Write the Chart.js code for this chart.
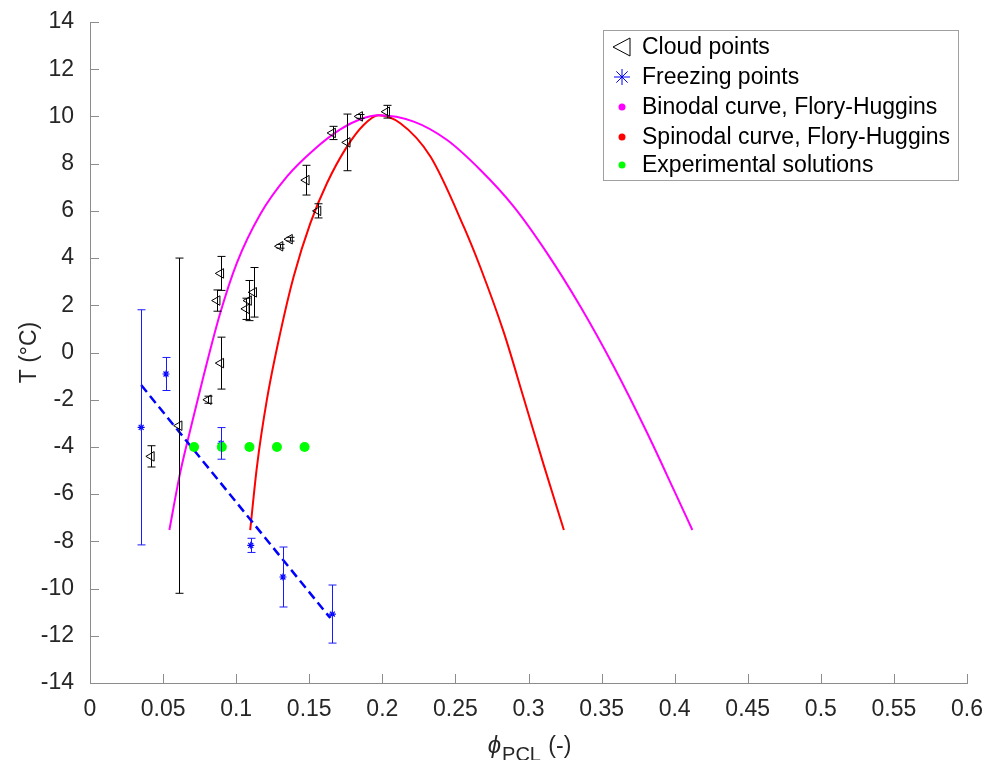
<!DOCTYPE html>
<html>
<head>
<meta charset="utf-8">
<script src="https://cdn.jsdelivr.net/npm/chart.js@4"></script>
<style>
  html, body { margin: 0; padding: 0; background: #fff; }
  #wrap { width: 985px; height: 760px; position: relative; }
</style>
</head>
<body>
<div id="wrap"><canvas id="chart" width="985" height="760"></canvas></div>
<script>
// cloud points (triangles) with their error half-widths
const cloudX = [0.042, 0.061, 0.081, 0.087, 0.0895, 0.0895, 0.107, 0.1085, 0.112, 0.130, 0.1365, 0.148, 0.156, 0.166, 0.176, 0.1845, 0.203];
const cloudY = [-4.4, -3.1, -2.0, 2.2, 3.35, -0.45, 1.85, 2.2, 2.55, 4.5, 4.8, 7.3, 6.0, 9.3, 8.9, 10.0, 10.2];
const cloudErr = [0.45, 7.1, 0.15, 0.45, 0.72, 1.1, 0.45, 0.85, 1.05, 0.08, 0.08, 0.63, 0.3, 0.28, 1.2, 0.08, 0.27];

// freezing points (asterisks)
const freezeX = [0.035, 0.052, 0.0897, 0.110, 0.132, 0.1658];
const freezeY = [-3.17, -0.91, -3.85, -8.17, -9.51, -11.08];
const freezeErr = [4.98, 0.7, 0.67, 0.3, 1.27, 1.23];

// linear trend through the freezing points
const fitX = [0.035, 0.1644];
const fitY = [-1.38, -11.25];

// Flory-Huggins binodal
const binodalX = [0.0543, 0.0616, 0.0685, 0.0776, 0.089, 0.1005, 0.1164, 0.1347, 0.153, 0.1712, 0.1849, 0.1975, 0.2215, 0.2443, 0.2671, 0.2899, 0.3128, 0.3356, 0.3584, 0.3813, 0.3995, 0.4121];
const binodalY = [-7.52, -5.12, -3.3, -1.02, 1.65, 3.8, 5.85, 7.45, 8.58, 9.45, 9.88, 10.05, 9.78, 9.0, 7.73, 6.18, 4.2, 1.94, -0.6, -3.42, -5.83, -7.52];

// Flory-Huggins spinodal
const spinodalX = [0.1096, 0.1142, 0.121, 0.1301, 0.1393, 0.1507, 0.1621, 0.1758, 0.1872, 0.1975, 0.2123, 0.2329, 0.2557, 0.2671, 0.2831, 0.2968, 0.3105, 0.3242];
const spinodalY = [-7.52, -4.84, -2.01, 0.81, 3.21, 5.47, 7.17, 8.72, 9.64, 10.05, 9.71, 8.3, 5.33, 3.6, 0.85, -1.95, -4.78, -7.52];

// experimental solutions
const expX = [0.0712, 0.0902, 0.1091, 0.1279, 0.1468];
const expY = [-4, -4, -4, -4, -4];

const xTicks = [0, 0.05, 0.1, 0.15, 0.2, 0.25, 0.3, 0.35, 0.4, 0.45, 0.5, 0.55, 0.6];
const xTickLabels = ["0", "0.05", "0.1", "0.15", "0.2", "0.25", "0.3", "0.35", "0.4", "0.45", "0.5", "0.55", "0.6"];
const yTicks = [-14, -12, -10, -8, -6, -4, -2, 0, 2, 4, 6, 8, 10, 12, 14];

const legendLabels = ["Cloud points", "Freezing points", "Binodal curve, Flory-Huggins", "Spinodal curve, Flory-Huggins", "Experimental solutions"];

const FONT = "'Liberation Sans', Arial, Helvetica, sans-serif";
const TEXT = "#262626";
const AXIS = "#8c8c8c";

function pts(xs, ys) {
  return xs.map((x, i) => ({ x: x, y: ys[i] }));
}

// error bars, inward ticks, axis titles and the boxed legend
const extras = {
  id: "extras",
  afterDatasetsDraw(chart) {
    const ctx = chart.ctx;
    const xs = chart.scales.x, ys = chart.scales.y;
    function bars(xv, yv, ev, color) {
      ctx.save();
      ctx.strokeStyle = color;
      ctx.lineWidth = 1;
      for (let i = 0; i < xv.length; i++) {
        const px = Math.round(xs.getPixelForValue(xv[i])) + 0.5;
        const top = ys.getPixelForValue(yv[i] + ev[i]);
        const bot = ys.getPixelForValue(yv[i] - ev[i]);
        ctx.beginPath();
        ctx.moveTo(px, top); ctx.lineTo(px, bot);
        ctx.moveTo(px - 4, top); ctx.lineTo(px + 4, top);
        ctx.moveTo(px - 4, bot); ctx.lineTo(px + 4, bot);
        ctx.stroke();
      }
      ctx.restore();
    }
    bars(cloudX, cloudY, cloudErr, "#000000");
    bars(freezeX, freezeY, freezeErr, "#1a1aff");
  },
  afterDraw(chart) {
    const ctx = chart.ctx;
    const xs = chart.scales.x, ys = chart.scales.y;
    const area = chart.chartArea;
    ctx.save();
    // ticks point into the plot
    ctx.strokeStyle = AXIS;
    ctx.lineWidth = 1;
    ctx.beginPath();
    xTicks.forEach(v => {
      const px = Math.round(xs.getPixelForValue(v)) + 0.5;
      ctx.moveTo(px, area.bottom); ctx.lineTo(px, area.bottom - 9);
    });
    yTicks.forEach(v => {
      const py = Math.round(ys.getPixelForValue(v)) + 0.5;
      ctx.moveTo(area.left, py); ctx.lineTo(area.left + 9, py);
    });
    ctx.stroke();

    // y title
    ctx.fillStyle = TEXT;
    ctx.font = "23px " + FONT;
    ctx.textAlign = "center";
    ctx.textBaseline = "middle";
    ctx.save();
    ctx.translate(30, (area.top + area.bottom) / 2);
    ctx.rotate(-Math.PI / 2);
    ctx.fillText("T (°C)", 0, 0);
    ctx.restore();

    // x title: phi with subscript
    const cx = (area.left + area.right) / 2;
    const base = 753;
    ctx.textAlign = "left";
    ctx.textBaseline = "alphabetic";
    ctx.font = "italic 24px " + FONT;
    const w1 = ctx.measureText("ϕ").width;
    ctx.font = "20px " + FONT;
    const w2 = ctx.measureText("PCL").width;
    ctx.font = "23px " + FONT;
    const w3 = ctx.measureText(" (-)").width;
    let x0 = cx - (w1 + w2 + w3) / 2;
    ctx.font = "italic 24px " + FONT;
    ctx.fillText("ϕ", x0, base);
    ctx.font = "20px " + FONT;
    ctx.fillText("PCL", x0 + w1 + 1, base + 8);
    ctx.font = "23px " + FONT;
    ctx.fillText(" (-)", x0 + w1 + w2 + 2, base);

    // legend box
    const lx = 603, ly = 30, lw = 355, lh = 150;
    ctx.fillStyle = "#ffffff";
    ctx.fillRect(lx, ly, lw, lh);
    ctx.strokeStyle = "#a0a0a0";
    ctx.strokeRect(lx + 0.5, ly + 0.5, lw, lh);
    const rows = [47, 77, 107, 137, 165];
    const mx = 622;
    // cloud marker
    ctx.strokeStyle = "#000";
    ctx.lineWidth = 1;
    ctx.beginPath();
    ctx.moveTo(mx - 9, rows[0]); ctx.lineTo(mx + 8, rows[0] - 9); ctx.lineTo(mx + 8, rows[0] + 9); ctx.closePath();
    ctx.stroke();
    // freezing marker
    ctx.strokeStyle = "#0000ff";
    ctx.beginPath();
    for (let k = 0; k < 4; k++) {
      const a = k * Math.PI / 4;
      ctx.moveTo(mx - 8 * Math.cos(a), rows[1] - 8 * Math.sin(a));
      ctx.lineTo(mx + 8 * Math.cos(a), rows[1] + 8 * Math.sin(a));
    }
    ctx.stroke();
    // dots
    ["#ff00ff", "#ff0000", "#00ff00"].forEach((c, k) => {
      ctx.fillStyle = c;
      ctx.beginPath();
      ctx.arc(mx, rows[k + 2], 3.5, 0, Math.PI * 2);
      ctx.fill();
    });
    ctx.fillStyle = "#000";
    ctx.font = "23px " + FONT;
    ctx.textBaseline = "middle";
    legendLabels.forEach((t, k) => ctx.fillText(t, 642, rows[k] + 1));
    ctx.restore();
  }
};

const ctx = document.getElementById("chart");
new Chart(ctx, {
  type: "scatter",
  data: {
    datasets: [
      {
        label: legendLabels[4],
        data: pts(expX, expY),
        pointStyle: "circle",
        pointRadius: 5,
        backgroundColor: "#00ff00",
        borderWidth: 0,
        order: 0
      },
      {
        label: legendLabels[0],
        data: pts(cloudX, cloudY),
        pointStyle: "triangle",
        rotation: -90,
        pointRadius: 5.5,
        backgroundColor: "rgba(0,0,0,0)",
        borderColor: "#000000",
        borderWidth: 1,
        order: 1
      },
      {
        label: legendLabels[1],
        data: pts(freezeX, freezeY),
        pointStyle: "star",
        pointRadius: 3.5,
        borderColor: "#0000ff",
        backgroundColor: "#0000ff",
        borderWidth: 1.2,
        order: 1
      },
      {
        label: "fit",
        data: pts(fitX, fitY),
        showLine: true,
        pointRadius: 0,
        borderColor: "#0000ff",
        borderWidth: 2.5,
        borderDash: [9, 5],
        order: 2
      },
      {
        label: legendLabels[2],
        data: pts(binodalX, binodalY),
        showLine: true,
        pointRadius: 0,
        borderColor: "#ff00ff",
        borderWidth: 2,
        cubicInterpolationMode: "monotone",
        order: 3
      },
      {
        label: legendLabels[3],
        data: pts(spinodalX, spinodalY),
        showLine: true,
        pointRadius: 0,
        borderColor: "#ff0000",
        borderWidth: 2,
        cubicInterpolationMode: "monotone",
        order: 3
      }
    ]
  },
  options: {
    responsive: false,
    animation: false,
    layout: { padding: { top: 22, right: 18, left: 0, bottom: 0 } },
    plugins: {
      legend: { display: false },
      tooltip: { enabled: false }
    },
    scales: {
      x: {
        type: "linear",
        min: 0,
        max: 0.6,
        afterBuildTicks: s => { s.ticks = xTicks.map(v => ({ value: v })); },
        afterFit: s => { s.height = 77; s.paddingLeft = 0; s.paddingRight = 0; },
        grid: { display: false },
        border: { display: true, color: AXIS, width: 1 },
        ticks: {
          padding: 5,
          color: TEXT,
          font: { family: FONT, size: 23 },
          maxRotation: 0,
          callback: (v, i) => xTickLabels[i]
        }
      },
      y: {
        type: "linear",
        min: -14,
        max: 14,
        afterBuildTicks: s => { s.ticks = yTicks.map(v => ({ value: v })); },
        afterFit: s => { s.width = 90; s.paddingTop = 0; s.paddingBottom = 0; },
        grid: { display: false },
        border: { display: true, color: AXIS, width: 1 },
        ticks: {
          padding: 8,
          color: TEXT,
          font: { family: FONT, size: 23 },
          callback: v => String(v)
        }
      }
    }
  },
  plugins: [extras]
});
</script>
</body>
</html>
